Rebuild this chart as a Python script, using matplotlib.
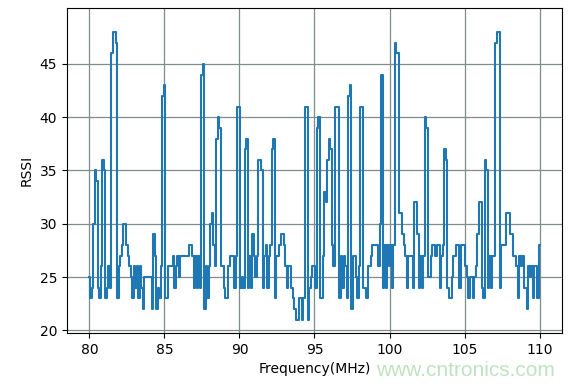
import numpy as np
import matplotlib
matplotlib.use("Agg")
import matplotlib.pyplot as plt

# sweep 80..110 MHz in 0.1 MHz steps
freq = np.linspace(80, 110, 301)

rssi = [
    25, 23, 24, 30, 35, 34, 24, 23, 26, 36,   # 80
    35, 23, 24, 26, 24, 46, 48, 48, 47, 23,   # 81
    26, 27, 28, 30, 30, 28, 27, 26, 25, 23,   # 82
    26, 24, 26, 23, 26, 24, 22, 25, 25, 25,   # 83
    25, 25, 22, 29, 27, 22, 24, 23, 26, 42,   # 84
    43, 23, 23, 26, 26, 26, 27, 24, 26, 27,   # 85
    25, 27, 27, 27, 27, 27, 27, 28, 28, 27,   # 86
    24, 27, 24, 27, 24, 44, 45, 22, 26, 23,   # 87
    26, 30, 31, 28, 26, 38, 40, 39, 26, 26,   # 88
    24, 23, 23, 26, 27, 27, 27, 24, 27, 41,   # 89
    41, 24, 25, 24, 37, 38, 24, 27, 24, 29,   # 90
    27, 25, 27, 36, 36, 35, 24, 27, 28, 24,   # 91
    27, 28, 37, 38, 23, 27, 27, 28, 29, 29,   # 92
    28, 26, 24, 26, 26, 24, 23, 22, 21, 21,   # 93
    23, 23, 21, 23, 41, 41, 21, 24, 25, 26,   # 94
    26, 24, 39, 40, 23, 23, 27, 33, 32, 36,   # 95
    38, 37, 28, 26, 41, 41, 41, 23, 27, 24,   # 96
    27, 26, 23, 42, 43, 22, 27, 27, 25, 23,   # 97
    26, 41, 41, 24, 24, 23, 26, 26, 27, 28,   # 98
    28, 28, 28, 26, 30, 44, 24, 28, 24, 28,   # 99
    26, 28, 24, 28, 47, 46, 46, 31, 31, 29,   # 100
    28, 27, 24, 27, 27, 27, 24, 32, 32, 29,   # 101
    24, 27, 24, 27, 40, 39, 25, 25, 27, 28,   # 102
    28, 27, 28, 28, 24, 27, 28, 37, 36, 24,   # 103
    23, 23, 25, 27, 27, 28, 28, 24, 28, 28,   # 104
    28, 26, 25, 23, 25, 25, 23, 25, 26, 29,   # 105
    32, 32, 24, 23, 36, 35, 24, 27, 24, 27,   # 106
    27, 47, 48, 48, 24, 28, 28, 28, 31, 31,   # 107
    31, 29, 29, 27, 27, 26, 23, 27, 26, 27,   # 108
    24, 24, 22, 26, 25, 26, 23, 26, 26, 23,   # 109
    28,                                       # 110
]

xticks = [80, 85, 90, 95, 100, 105, 110]
yticks = [20, 25, 30, 35, 40, 45]


def main():
    fig = plt.figure(figsize=(5.76, 3.84), dpi=100)
    ax = fig.add_axes([0.116, 0.133, 0.86, 0.846])
    ax.plot(freq, rssi, color="#1f77b4", linewidth=1.5, drawstyle="steps-mid")
    ax.set_xticks(xticks)
    ax.set_yticks(yticks)
    ax.set_xlim(78.5, 111.5)
    ax.set_ylim(19.75, 50.25)
    ax.grid(True, color="#7f8c8d", linewidth=0.9)
    ax.set_axisbelow(True)
    ax.set_xlabel("Frequency(MHz)")
    ax.set_ylabel("RSSI")
    fig.text(0.964, 0.036, "www.cntronics.com", color="#bfe3bf",
             fontsize=15, family="Liberation Sans", ha="right", va="center")
    fig.savefig("out.png", dpi=100)


if __name__ == "__main__":
    main()
